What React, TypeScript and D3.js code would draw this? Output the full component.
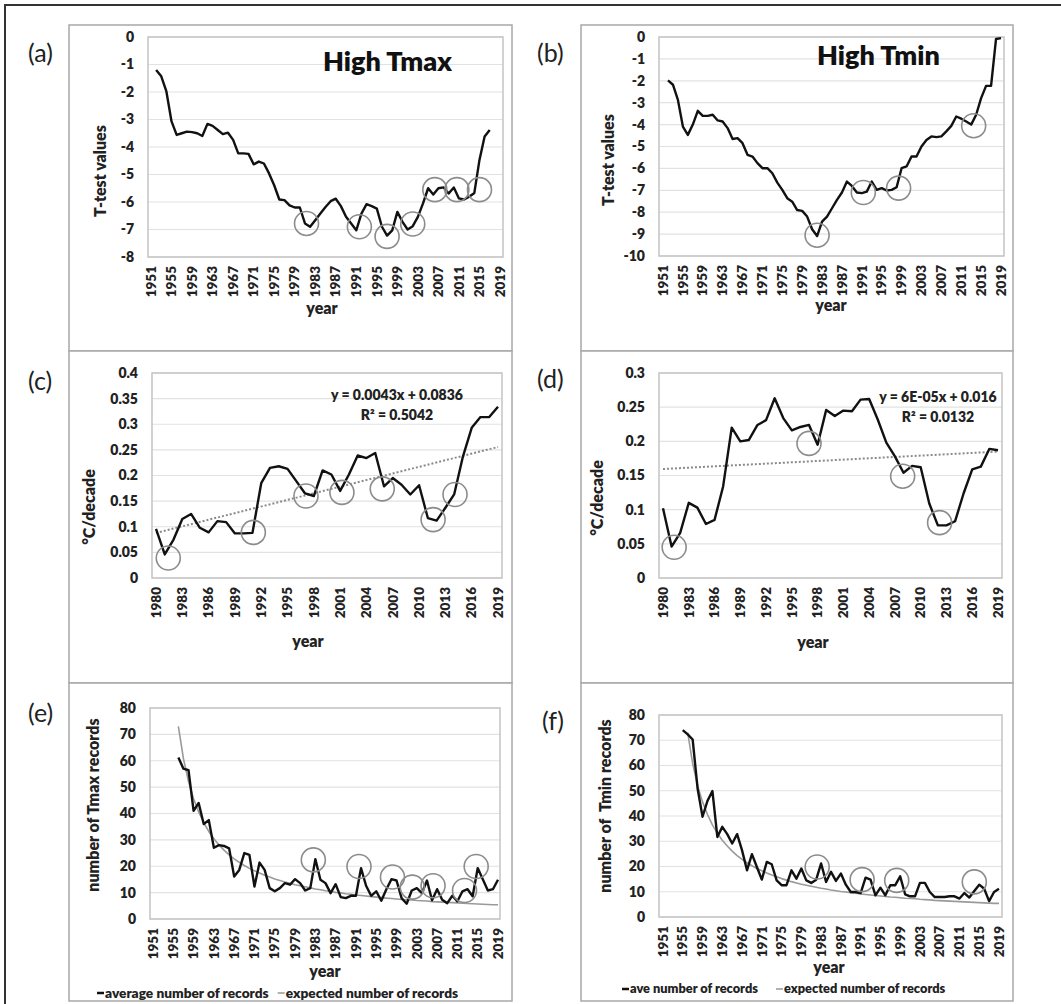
import * as d3 from 'd3';
import React, { useEffect, useRef } from 'react';

// (a) T-test values, high Tmax, 1952-2017
const tmaxTtestStart = 1952;
const tmaxTtest = [
   -1.2, -1.43, -1.98, -3.07, -3.56, -3.5, -3.44, -3.46, -3.5, -3.6,
   -3.16, -3.23, -3.38, -3.53, -3.48, -3.74, -4.23, -4.23, -4.25, -4.63,
   -4.53, -4.6, -4.96, -5.39, -5.91, -5.93, -6.12, -6.2, -6.2, -6.78,
   -6.9, -6.66, -6.42, -6.18, -5.97, -5.88, -6.15, -6.54, -6.78, -7.03,
   -6.42, -6.08, -6.15, -6.24, -6.9, -7.22, -7.03, -6.36, -6.72, -7.0,
   -6.88, -6.54, -6.05, -5.5, -5.73, -5.5, -5.47, -5.69, -5.47, -5.87,
   -5.91, -5.81, -5.67, -4.47, -3.62, -3.38,
];
const tmaxTtestCircles = [
   [1981.3, -6.78], [1991.6, -6.9], [1997, -7.25], [2002, -6.8],
   [2006.3, -5.55], [2010.6, -5.55], [2015, -5.55],
];

// (b) T-test values, high Tmin, 1952-2019
const tminTtestStart = 1952;
const tminTtest = [
   -1.98, -2.18, -2.87, -4.09, -4.47, -4.0, -3.37, -3.6, -3.6, -3.55,
   -3.81, -3.86, -4.16, -4.66, -4.62, -4.85, -5.38, -5.46, -5.76, -5.99,
   -5.99, -6.22, -6.65, -6.98, -7.36, -7.52, -7.9, -7.94, -8.2, -8.78,
   -9.09, -8.43, -8.2, -7.82, -7.44, -7.1, -6.6, -6.8, -7.1, -7.13,
   -7.06, -6.6, -6.98, -6.9, -7.01, -6.98, -6.86, -5.99, -5.91, -5.46,
   -5.46, -5.0, -4.7, -4.54, -4.57, -4.54, -4.31, -4.06, -3.63, -3.73,
   -3.86, -4.0, -3.55, -2.79, -2.23, -2.23, -0.09, -0.05,
];
const tminTtestCircles = [
   [1982, -9.05], [1991.3, -7.1], [1998.4, -6.9], [2013.5, -4.05],
];

// (c) trend in °C/decade, Tmax, 1980-2019
const trendStart = 1980;
const tmaxTrend = [
   0.096, 0.046, 0.075, 0.115, 0.125, 0.098, 0.089, 0.111, 0.109, 0.087,
   0.087, 0.088, 0.185, 0.215, 0.218, 0.213, 0.189, 0.165, 0.16, 0.21,
   0.202, 0.17, 0.202, 0.239, 0.234, 0.244, 0.179, 0.195, 0.182, 0.163,
   0.181, 0.117, 0.112, 0.137, 0.163, 0.237, 0.293, 0.314, 0.314, 0.334,
];
const tmaxTrendFit = [0.0879, 0.2556];
const tmaxTrendCircles = [
   [1981.4, 0.039], [1991.1, 0.089], [1997.1, 0.16], [2001.2, 0.167],
   [2005.8, 0.174], [2011.6, 0.114], [2014.1, 0.163],
];

// (d) trend in °C/decade, Tmin, 1980-2019
const tminTrend = [
   0.102, 0.046, 0.066, 0.11, 0.103, 0.079, 0.085, 0.134, 0.22, 0.2,
   0.202, 0.224, 0.231, 0.263, 0.234, 0.216, 0.221, 0.224, 0.195, 0.246,
   0.237, 0.245, 0.244, 0.261, 0.262, 0.232, 0.198, 0.178, 0.154, 0.164,
   0.162, 0.109, 0.077, 0.077, 0.083, 0.124, 0.159, 0.163, 0.189, 0.187,
];
const tminTrendFit = [0.1595, 0.185];
const tminTrendCircles = [
   [1981.3, 0.045], [1997, 0.197], [2007.9, 0.149], [2012.2, 0.081],
];

// (e) average number of Tmax records, 1956-2019
const tmaxRecordsStart = 1956;
const tmaxRecords = [
   61.2, 57, 56.4, 41, 44, 36, 37.5, 27, 28, 27.7,
   26.8, 16.1, 18.6, 25, 24.3, 12.3, 21.4, 18.6, 11.7, 10.5,
   11.7, 13.6, 13, 15.1, 13.6, 10.8, 11.7, 22.7, 14.9, 13.6,
   9.8, 13.2, 8.3, 7.9, 8.8, 8.8, 19.3, 12.6, 8.8, 10.5,
   6.9, 11.3, 15.1, 14.6, 7.9, 5.8, 10.8, 11.7, 9.8, 14.6,
   7.1, 11.3, 7.3, 6, 8.8, 6.7, 10.5, 11.3, 8.6, 19.3,
   15.1, 10.8, 11.3, 14.9,
];
const tmaxRecordCircles = [
   [1982.6, 22.4], [1991.6, 19.9], [1998.2, 15.9], [2002.1, 12.1],
   [2006.2, 12.6], [2012.4, 10.8], [2014.7, 19.9],
];

// (f) average number of Tmin records, 1955-2019
const tminRecordsStart = 1955;
const tminRecords = [
   74, 72.3, 70.3, 50.9, 39.7, 46, 49.9, 31.7, 35.7, 32.8,
   29.1, 32.8, 26.4, 18.5, 24.9, 19.8, 14.8, 21.8, 20.9, 14.5,
   12.6, 12.6, 18.5, 15.2, 19.2, 14.5, 13.5, 14.8, 21.2, 13.9,
   17.9, 14.3, 17.2, 12.8, 9.9, 9.9, 9.5, 15.6, 14.8, 8.6,
   11.6, 8.6, 12.6, 12.6, 16.1, 9, 8.2, 8.2, 13.5, 13.5,
   9.9, 7.9, 7.9, 7.9, 8.2, 8.2, 7.3, 9.5, 7.7, 10.3,
   12.8, 11.2, 6.3, 9.9, 11.2,
];
const tminRecordCircles = [
   [1982.2, 19.8], [1991.3, 14.8], [1998.3, 14.5], [2014, 13.9],
];

// expected number of records (grey curve in e and f), 1956-2019
const expectedStart = 1956;
const expectedRecords = [
   73, 60.8, 52.1, 45.6, 40.6, 36.5, 33.2, 30.4, 28.1, 26.1,
   24.3, 22.8, 21.5, 20.3, 19.2, 18.3, 17.4, 16.6, 15.9, 15.2,
   14.6, 14, 13.5, 13, 12.6, 12.2, 11.8, 11.4, 11.1, 10.7,
   10.4, 10.1, 9.9, 9.6, 9.4, 9.1, 8.9, 8.7, 8.5, 8.3,
   8.1, 7.9, 7.8, 7.6, 7.4, 7.3, 7.2, 7, 6.9, 6.8,
   6.6, 6.5, 6.4, 6.3, 6.2, 6.1, 6, 5.9, 5.8, 5.7,
   5.6, 5.5, 5.4, 5.4,
];

const longYearTicks = d3.range(1951, 2020, 4);
const shortYearTicks = d3.range(1980, 2020, 3);

const FONT = 'Lato, "Open Sans", sans-serif';

type G = d3.Selection<SVGGElement, unknown, null, undefined>;

interface Panel {
   letter: string;
   letterPos: [number, number];
   box: [number, number, number, number];
   plot: [number, number, number, number];
   cats: [number, number, number, number]; // first year, px, last year, px
   yDomain: [number, number];
   yStep: number;
   xTicks: number[];
   yTitle: string;
   yTitlePos: [number, number];
   yearPos: [number, number];
}

const panels: Panel[] = [
   {
      letter: '(a)', letterPos: [28, 62], box: [69, 25, 443, 326],
      plot: [148, 37, 503, 257], cats: [1951, 151, 2019, 500],
      yDomain: [-8, 0], yStep: 1, xTicks: longYearTicks,
      yTitle: 'T-test values', yTitlePos: [100, 171], yearPos: [322, 314],
   },
   {
      letter: '(b)', letterPos: [537, 62], box: [581, 25, 432, 326],
      plot: [659, 37, 1004, 256], cats: [1951, 663, 2019, 1001],
      yDomain: [-10, 0], yStep: 1, xTicks: longYearTicks,
      yTitle: 'T-test values', yTitlePos: [608, 160], yearPos: [831, 311],
   },
   {
      letter: '(c)', letterPos: [28, 390], box: [69, 351, 443, 332],
      plot: [152, 373, 502, 578], cats: [1980, 156, 2019, 498],
      yDomain: [0, 0.4], yStep: 0.05, xTicks: shortYearTicks,
      yTitle: '°C/decade', yTitlePos: [89, 507], yearPos: [308, 647],
   },
   {
      letter: '(d)', letterPos: [537, 388], box: [581, 351, 432, 332],
      plot: [659, 373, 1002, 578], cats: [1980, 663, 2019, 998],
      yDomain: [0, 0.3], yStep: 0.05, xTicks: shortYearTicks,
      yTitle: '°C/decade', yTitlePos: [597, 498], yearPos: [813, 648],
   },
   {
      letter: '(e)', letterPos: [28, 722], box: [69, 683, 443, 318],
      plot: [150, 708, 500, 919], cats: [1951, 153, 2019, 498],
      yDomain: [0, 80], yStep: 10, xTicks: longYearTicks,
      yTitle: 'number of Tmax records', yTitlePos: [93, 805], yearPos: [325, 977],
   },
   {
      letter: '(f)', letterPos: [542, 730], box: [581, 683, 432, 318],
      plot: [659, 715, 1002, 917], cats: [1951, 663, 2019, 999],
      yDomain: [0, 80], yStep: 10, xTicks: longYearTicks,
      yTitle: 'number of  Tmin records', yTitlePos: [605, 806], yearPos: [829, 973],
   },
];

const fmt = (v: number) => String(+v.toFixed(2));

const drawFrame = (g: G, p: Panel) => {
   const [bx, by, bw, bh] = p.box;
   g.append('rect')
      .attr('x', bx).attr('y', by).attr('width', bw).attr('height', bh)
      .attr('fill', 'white').attr('stroke', '#a8a8a8').attr('stroke-width', 1.5);

   const [x0, y0, x1, y1] = p.plot;
   const x = d3.scaleLinear().domain([p.cats[0], p.cats[2]]).range([p.cats[1], p.cats[3]]);
   const y = d3.scaleLinear().domain(p.yDomain).range([y1, y0]);
   const yTicks = d3.range(p.yDomain[0], p.yDomain[1] + p.yStep / 2, p.yStep);

   // gridlines
   g.selectAll(null).data(yTicks).enter().append('line')
      .attr('x1', x0).attr('x2', x1)
      .attr('y1', (d) => y(d)).attr('y2', (d) => y(d))
      .attr('stroke', '#e2e2e2').attr('stroke-width', 1.2);

   g.append('rect')
      .attr('x', x0).attr('y', y0).attr('width', x1 - x0).attr('height', y1 - y0)
      .attr('fill', 'none').attr('stroke', '#c4c4c4').attr('stroke-width', 1.5);

   // y tick labels
   g.selectAll(null).data(yTicks).enter().append('text')
      .attr('x', x0 - 14).attr('y', (d) => y(d)).attr('dy', '0.35em')
      .attr('text-anchor', 'end').attr('font-size', 14).attr('font-weight', 800)
      .attr('fill', '#222').text((d) => fmt(d));

   // x tick labels, rotated
   g.selectAll(null).data(p.xTicks).enter().append('text')
      .attr('transform', (d) => `translate(${x(d)},${y1 + 9}) rotate(-90)`)
      .attr('dy', '0.35em').attr('text-anchor', 'end')
      .attr('font-size', 13.5).attr('font-weight', 800).attr('fill', '#222')
      .text((d) => d);

   g.append('text')
      .attr('transform', `translate(${p.yTitlePos[0]},${p.yTitlePos[1]}) rotate(-90)`)
      .attr('dy', '0.35em').attr('text-anchor', 'middle')
      .attr('font-size', 16).attr('font-weight', 800).attr('fill', '#222')
      .attr('xml:space', 'preserve').style('white-space', 'pre')
      .text(p.yTitle);

   g.append('text')
      .attr('x', p.yearPos[0]).attr('y', p.yearPos[1])
      .attr('text-anchor', 'middle').attr('font-size', 16).attr('font-weight', 800)
      .attr('fill', '#222').text('year');

   g.append('text')
      .attr('x', p.letterPos[0]).attr('y', p.letterPos[1])
      .attr('font-size', 25).attr('fill', '#222').text(p.letter);

   return { x, y };
};

const drawSeries = (
   g: G,
   x: d3.ScaleLinear<number, number>,
   y: d3.ScaleLinear<number, number>,
   start: number,
   values: number[],
   stroke: string,
   width: number,
) => {
   const line = d3.line<number>().x((_, i) => x(start + i)).y((v) => y(v));
   g.append('path').datum(values)
      .attr('fill', 'none').attr('stroke', stroke).attr('stroke-width', width)
      .attr('stroke-linejoin', 'round').attr('d', line);
};

const drawCircles = (
   g: G,
   x: d3.ScaleLinear<number, number>,
   y: d3.ScaleLinear<number, number>,
   pts: number[][],
) => {
   g.selectAll(null).data(pts).enter().append('circle')
      .attr('cx', (d) => x(d[0])).attr('cy', (d) => y(d[1])).attr('r', 12)
      .attr('fill', 'none').attr('stroke', '#8c8c8c').attr('stroke-width', 1.6);
};

const drawFit = (
   g: G,
   x: d3.ScaleLinear<number, number>,
   y: d3.ScaleLinear<number, number>,
   fit: number[],
) => {
   g.append('line')
      .attr('x1', x(trendStart)).attr('y1', y(fit[0]))
      .attr('x2', x(2019)).attr('y2', y(fit[1]))
      .attr('stroke', '#8a8a8a').attr('stroke-width', 2).attr('stroke-dasharray', '2,2');
};

const drawLegend = (
   g: G, x: number, yy: number, labels: string[], gap: number, size: number,
) => {
   let cx = x;
   labels.forEach((label, i) => {
      g.append('line')
         .attr('x1', cx).attr('x2', cx + 7).attr('y1', yy).attr('y2', yy)
         .attr('stroke', i === 0 ? '#111' : '#999').attr('stroke-width', i === 0 ? 2.5 : 1.5);
      const t = g.append('text')
         .attr('x', cx + 8).attr('y', yy).attr('dy', '0.35em')
         .attr('font-size', size).attr('font-weight', 800).attr('fill', '#222')
         .text(label);
      const w = (t.node() as SVGTextElement).getComputedTextLength();
      cx += 8 + w + gap;
   });
};

const App = () => {
   const svgRef = useRef<SVGSVGElement | null>(null);

   useEffect(() => {
      const svg = d3.select(svgRef.current);
      svg.selectAll('*').remove();
      const g = svg.append('g').attr('font-family', FONT) as unknown as G;

      g.append('rect').attr('width', 1061).attr('height', 1004).attr('fill', 'white');
      g.append('line').attr('x1', 4).attr('x2', 1061).attr('y1', 5).attr('y2', 5)
         .attr('stroke', '#333').attr('stroke-width', 2);
      g.append('line').attr('x1', 5).attr('x2', 5).attr('y1', 4).attr('y2', 1004)
         .attr('stroke', '#333').attr('stroke-width', 2);

      const [pa, pb, pc, pd, pe, pf] = panels;

      let s = drawFrame(g, pa);
      drawSeries(g, s.x, s.y, tmaxTtestStart, tmaxTtest, '#111', 2.4);
      drawCircles(g, s.x, s.y, tmaxTtestCircles);
      g.append('text').attr('x', 323).attr('y', 71)
         .attr('font-size', 27).attr('font-weight', 800).attr('fill', '#111').text('High Tmax');

      s = drawFrame(g, pb);
      drawSeries(g, s.x, s.y, tminTtestStart, tminTtest, '#111', 2.4);
      drawCircles(g, s.x, s.y, tminTtestCircles);
      g.append('text').attr('x', 817).attr('y', 65)
         .attr('font-size', 27).attr('font-weight', 800).attr('fill', '#111').text('High Tmin');

      s = drawFrame(g, pc);
      drawFit(g, s.x, s.y, tmaxTrendFit);
      drawSeries(g, s.x, s.y, trendStart, tmaxTrend, '#111', 2.4);
      drawCircles(g, s.x, s.y, tmaxTrendCircles);
      g.append('text').attr('x', 397).attr('y', 395).attr('dy', '0.35em')
         .attr('text-anchor', 'middle').attr('font-size', 14).attr('font-weight', 800)
         .attr('fill', '#222').text('y = 0.0043x + 0.0836');
      g.append('text').attr('x', 397).attr('y', 415).attr('dy', '0.35em')
         .attr('text-anchor', 'middle').attr('font-size', 14).attr('font-weight', 800)
         .attr('fill', '#222').text('R² = 0.5042');

      s = drawFrame(g, pd);
      drawFit(g, s.x, s.y, tminTrendFit);
      drawSeries(g, s.x, s.y, trendStart, tminTrend, '#111', 2.4);
      drawCircles(g, s.x, s.y, tminTrendCircles);
      g.append('text').attr('x', 938).attr('y', 397).attr('dy', '0.35em')
         .attr('text-anchor', 'middle').attr('font-size', 14).attr('font-weight', 800)
         .attr('fill', '#222').text('y = 6E-05x + 0.016');
      g.append('text').attr('x', 938).attr('y', 417).attr('dy', '0.35em')
         .attr('text-anchor', 'middle').attr('font-size', 14).attr('font-weight', 800)
         .attr('fill', '#222').text('R² = 0.0132');

      s = drawFrame(g, pe);
      drawSeries(g, s.x, s.y, expectedStart, expectedRecords, '#9a9a9a', 1.6);
      drawSeries(g, s.x, s.y, tmaxRecordsStart, tmaxRecords, '#111', 2.4);
      drawCircles(g, s.x, s.y, tmaxRecordCircles);
      drawLegend(g, 97, 993, ['average number of records', 'expected number of records'], 9, 13.7);

      s = drawFrame(g, pf);
      drawSeries(g, s.x, s.y, expectedStart, expectedRecords, '#9a9a9a', 1.6);
      drawSeries(g, s.x, s.y, tminRecordsStart, tminRecords, '#111', 2.4);
      drawCircles(g, s.x, s.y, tminRecordCircles);
      drawLegend(g, 622, 989, ['ave number of records', 'expected number of records'], 18, 12.8);
   }, []);

   return (
      <svg
         ref={svgRef}
         width={1061}
         height={1004}
         style={{ position: 'absolute', left: 0, top: 0, display: 'block' }}
      />
   );
};

export default App;
